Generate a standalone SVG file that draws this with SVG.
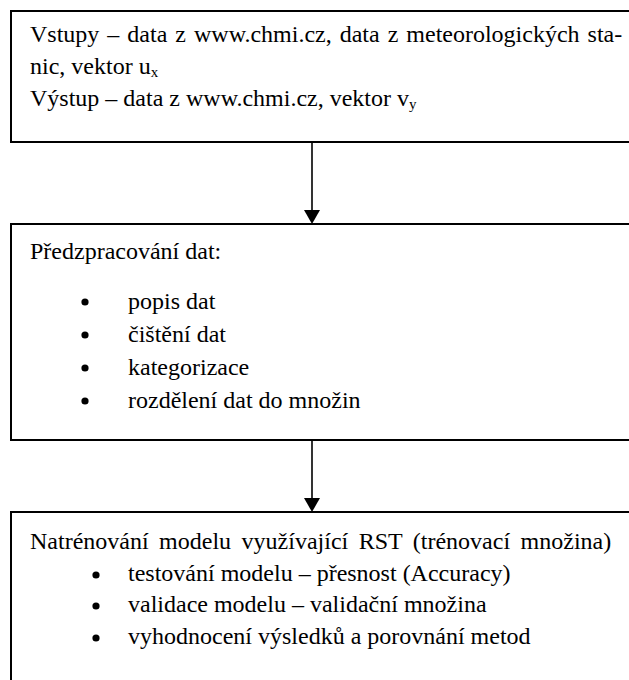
<svg xmlns="http://www.w3.org/2000/svg" width="629" height="680" viewBox="0 0 629 680">
  <defs>
    <style>
      .box { fill: #ffffff; stroke: #000000; stroke-width: 2; }
      .txt { font-family: 'Liberation Serif', 'Times New Roman', serif; font-size: 24px; fill: #000000; }
      .sub { font-size: 15px; }
      .link { stroke: #000000; stroke-width: 1.6; fill: none; }
      .head { fill: #000000; }
    </style>
  </defs>
  <rect width="629" height="680" fill="#ffffff"/>

  <!-- Inputs / outputs -->
  <g id="node-inputs">
    <rect class="box" x="11" y="11" width="640" height="131"/>
    <text class="txt" x="30" y="42" word-spacing="2">Vstupy – data z www.chmi.cz, data z meteorologických sta-</text>
    <text class="txt" x="30" y="74">nic, vektor u<tspan class="sub" dy="3">x</tspan></text>
    <text class="txt" x="30" y="106">Výstup – data z www.chmi.cz, vektor v<tspan class="sub" dy="3">y</tspan></text>
  </g>

  <!-- Preprocessing -->
  <g id="node-preprocessing">
    <rect class="box" x="11" y="224" width="640" height="216"/>
    <text class="txt" x="30" y="259">Předzpracování dat:</text>
    <g class="txt">
      <circle cx="85" cy="302" r="3.6"/>
      <text x="128" y="309">popis dat</text>
      <circle cx="85" cy="335" r="3.6"/>
      <text x="128" y="342">čištění dat</text>
      <circle cx="85" cy="368" r="3.6"/>
      <text x="128" y="375">kategorizace</text>
      <circle cx="85" cy="401" r="3.6"/>
      <text x="128" y="408">rozdělení dat do množin</text>
    </g>
  </g>

  <!-- Model training and evaluation -->
  <g id="node-training">
    <rect class="box" x="11" y="512" width="640" height="200"/>
    <text class="txt" x="30" y="549" word-spacing="4.5">Natrénování modelu využívající RST (trénovací množina)</text>
    <g class="txt">
      <circle cx="96" cy="575" r="3.6"/>
      <text x="128" y="581">testování modelu – přesnost (Accuracy)</text>
      <circle cx="96" cy="606" r="3.6"/>
      <text x="128" y="612">validace modelu – validační množina</text>
      <circle cx="96" cy="638" r="3.6"/>
      <text x="128" y="644">vyhodnocení výsledků a porovnání metod</text>
    </g>
  </g>

  <!-- Connectors -->
  <g id="connectors">
    <line class="link" x1="312" y1="143" x2="312" y2="211"/>
    <polygon class="head" points="304,210 320,210 312,224"/>
    <line class="link" x1="312" y1="441" x2="312" y2="499"/>
    <polygon class="head" points="304,498 320,498 312,512"/>
  </g>
</svg>
